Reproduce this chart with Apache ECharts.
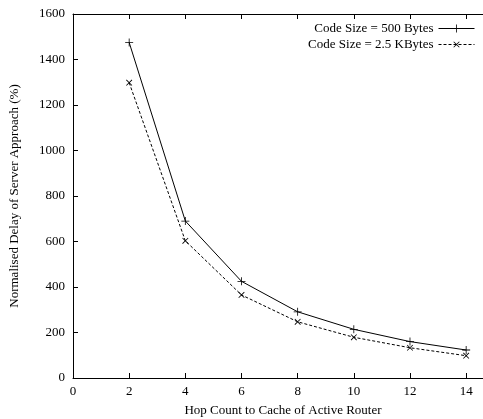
<!DOCTYPE html>
<html>
<head>
<meta charset="utf-8">
<script src="https://cdn.jsdelivr.net/npm/echarts@6/dist/echarts.min.js"></script>
<style>
html, body { margin: 0; padding: 0; background: #fff; }
#chart { width: 483px; height: 419px; }
</style>
</head>
<body>
<div id="chart"></div>
<script>
// hop counts on the x axis
const hops = [2, 4, 6, 8, 10, 12, 14]
// normalised delay (%) for each code size
const delay500 = [1475, 690, 425, 291, 214, 160, 123]
const delay2k5 = [1298, 603, 365, 247, 179, 133, 98]
const seriesNames = ['Code Size = 500 Bytes', 'Code Size = 2.5 KBytes']

const font = 'Liberation Serif'
const plus = 'path://M4.5,0 H5.5 V10 H4.5 Z M0,4.5 H10 V5.5 H0 Z'

const chart = echarts.init(document.getElementById('chart'))

const legendBase = {
    right: 8,
    align: 'right',
    padding: 0,
    itemWidth: 36,
    itemHeight: 10,
    itemGap: 6,
    lineStyle: { width: 1 },
    textStyle: { fontFamily: font, fontSize: 13, color: '#000' }
}

const option = {
    animation: false,
    legend: [
        Object.assign({ top: 22, data: [seriesNames[0]] }, legendBase),
        Object.assign({ top: 38, data: [seriesNames[1]] }, legendBase)
    ],
    // plot continues past the right edge of the picture, like the cropped original
    grid: { left: 73, right: 0, top: 14, bottom: 41, containLabel: false, outerBoundsMode: 'none' },
    xAxis: [
        {
            type: 'value',
            min: 0,
            max: 14.6,
            interval: 2,
            name: 'Hop Count to Cache of Active Router',
            nameLocation: 'middle',
            nameGap: 26,
            nameTextStyle: { fontFamily: font, fontSize: 13, color: '#000', padding: [0, 0, 0, 10] },
            axisLine: { lineStyle: { color: '#000', width: 1 } },
            axisTick: { inside: true, length: 5, lineStyle: { color: '#000' } },
            axisLabel: { fontFamily: font, fontSize: 13, color: '#000', margin: 7, showMaxLabel: false },
            splitLine: { show: false }
        },
        {
            type: 'value',
            position: 'top',
            min: 0,
            max: 14.6,
            interval: 2,
            axisLine: { lineStyle: { color: '#000', width: 1 } },
            axisTick: { inside: true, length: 5, lineStyle: { color: '#000' } },
            axisLabel: { show: false },
            splitLine: { show: false }
        }
    ],
    yAxis: {
        type: 'value',
        min: 0,
        max: 1600,
        interval: 200,
        name: 'Normalised Delay of Server Approach (%)',
        nameLocation: 'middle',
        nameGap: 52,
        nameTextStyle: { fontFamily: font, fontSize: 13, color: '#000' },
        axisLine: { show: true, lineStyle: { color: '#000', width: 1 } },
        axisTick: { show: true, inside: true, length: 5, lineStyle: { color: '#000' } },
        axisLabel: { fontFamily: font, fontSize: 13, color: '#000', margin: 8, formatter: v => String(v) },
        splitLine: { show: false }
    },
    series: [
        {
            name: seriesNames[0],
            type: 'line',
            data: hops.map((h, i) => [h, delay500[i]]),
            symbol: plus,
            symbolSize: 8,
            showSymbol: true,
            lineStyle: { color: '#000', width: 1 },
            itemStyle: { color: '#000' }
        },
        {
            name: seriesNames[1],
            type: 'line',
            data: hops.map((h, i) => [h, delay2k5[i]]),
            symbol: plus,
            symbolSize: 8,
            symbolRotate: 45,
            showSymbol: true,
            lineStyle: { color: '#000', width: 1, type: [3, 2] },
            itemStyle: { color: '#000' }
        }
    ]
}

chart.setOption(option)
</script>
</body>
</html>
